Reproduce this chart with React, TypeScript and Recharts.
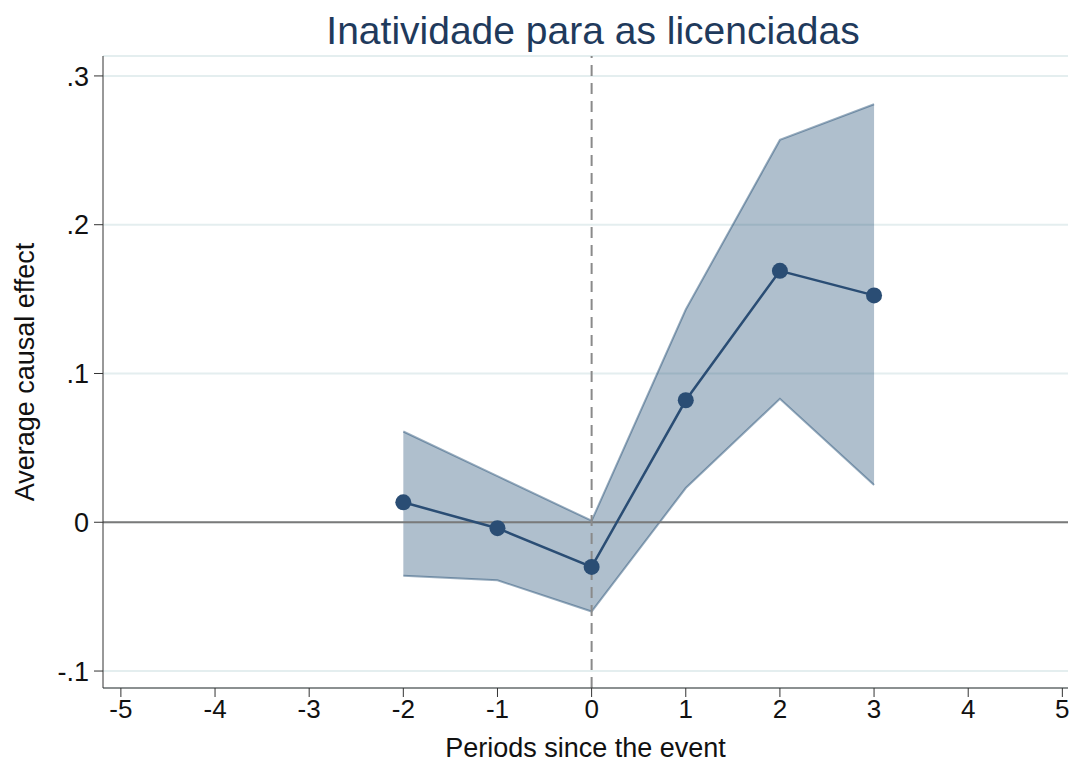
import { Area, CartesianGrid, ComposedChart, Label, Line, ReferenceLine, XAxis, YAxis } from "recharts"

const periods = [-2, -1, 0, 1, 2, 3]
const estimates = [0.0134, -0.004, -0.03, 0.082, 0.169, 0.1525]
const lowerCI = [-0.036, -0.039, -0.06, 0.023, 0.083, 0.025]
const upperCI = [0.061, 0.031, 0.001, 0.143, 0.257, 0.281]

const xTicks = [-5, -4, -3, -2, -1, 0, 1, 2, 3, 4, 5]
const yTicks = [-0.1, 0, 0.1, 0.2, 0.3]

const data = periods.map((p, i) => ({
  period: p,
  effect: estimates[i],
  ci: [lowerCI[i], upperCI[i]],
}))

const navy = "#1a476f"
const font = "'Liberation Sans', Arial, sans-serif"

const fmtY = (v: number) => {
  if (v === 0) return "0"
  const s = Math.abs(v).toFixed(1).replace(/^0/, "")
  return v < 0 ? "-" + s : s
}

export default function App() {
  return (
    <div style={{ position: "absolute", left: 0, top: 0, width: 1070, height: 765, background: "#fff", fontFamily: font }}>
      <div
        style={{
          position: "absolute",
          top: 7,
          left: 0,
          width: 1186,
          textAlign: "center",
          fontSize: 39,
          lineHeight: "48px",
          color: "#1f3a5c",
        }}
      >
        Inatividade para as licenciadas
      </div>
      <ComposedChart width={1070} height={765} data={data} margin={{ top: 56, right: 2, bottom: 0, left: 0 }}>
        <CartesianGrid horizontal vertical={false} stroke="#e4eeef" strokeWidth={2} />
        <XAxis
          dataKey="period"
          type="number"
          domain={[-5.19, 5.06]}
          ticks={xTicks}
          allowDataOverflow
          height={77}
          stroke="#333"
          tickSize={9}
          tick={{ fill: "#111", fontSize: 26, fontFamily: font }}
          tickMargin={3}
        >
          <Label value="Periods since the event" position="insideBottom" offset={8} fill="#111" fontSize={27} fontFamily={font} />
        </XAxis>
        <YAxis
          type="number"
          domain={[-0.1114, 0.3134]}
          ticks={yTicks}
          allowDataOverflow
          width={103}
          stroke="#333"
          tickSize={9}
          tickFormatter={fmtY}
          tick={{ fill: "#111", fontSize: 27, fontFamily: font }}
          tickMargin={5}
        >
          <Label value="Average causal effect" angle={-90} position="insideLeft" offset={24} style={{ textAnchor: "middle" }} fill="#111" fontSize={27} fontFamily={font} />
        </YAxis>
        <Area
          dataKey="ci"
          type="linear"
          stroke={navy}
          strokeOpacity={0.45}
          strokeWidth={2}
          fill={navy}
          fillOpacity={0.35}
          isAnimationActive={false}
        />
        <ReferenceLine y={0} stroke="#7a7a7a" strokeWidth={2} />
        <ReferenceLine x={0} stroke="#8a8a8a" strokeWidth={2} strokeDasharray="11 7" />
        <Line
          dataKey="effect"
          type="linear"
          stroke="#2a4d74"
          strokeWidth={2.5}
          dot={{ r: 8, fill: "#2a4d74", stroke: "#2a4d74", strokeWidth: 0 }}
          isAnimationActive={false}
        />
      </ComposedChart>
    </div>
  )
}
